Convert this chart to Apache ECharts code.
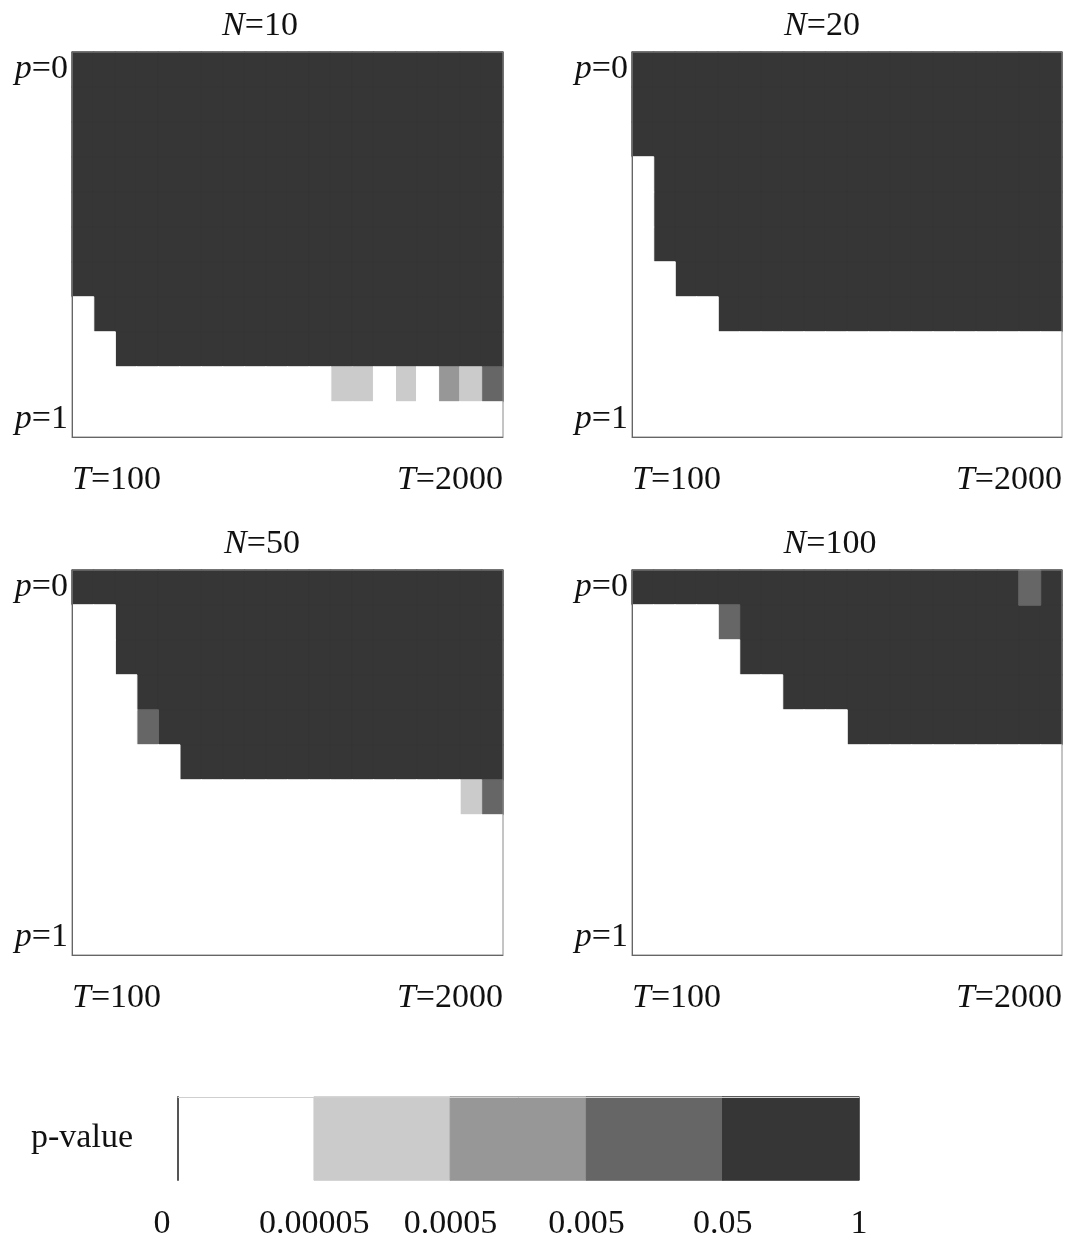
<!DOCTYPE html>
<html>
<head>
<meta charset="utf-8">
<script src="https://cdn.jsdelivr.net/npm/echarts@6/dist/echarts.min.js"></script>
<style>
  html, body { margin: 0; padding: 0; background: #ffffff; }
  #chart { width: 1071px; height: 1237px; }
</style>
</head>
<body>
<div id="chart"></div>
<script>
// Sample lengths (columns) and mixing probabilities (rows)
const tValues = ['100','200','300','400','500','600','700','800','900','1000',
                 '1100','1200','1300','1400','1500','1600','1700','1800','1900','2000'];
const pValues = ['0','0.1','0.2','0.3','0.4','0.5','0.6','0.7','0.8','0.9','1'];

// p-value bins: class k covers [pValueBreaks[k], pValueBreaks[k+1])
const pValueBreaks = ['0', '0.00005', '0.0005', '0.005', '0.05', '1'];
const binColors = ['#ffffff', '#cbcbcb', '#979797', '#666666', '#363636'];

const panelN = ['10', '20', '50', '100'];

// p-value bin per cell, one string per p row (p=0 first), one digit per T column
const binsN10 = [
  '44444444444444444444',
  '44444444444444444444',
  '44444444444444444444',
  '44444444444444444444',
  '44444444444444444444',
  '44444444444444444444',
  '44444444444444444444',
  '04444444444444444444',
  '00444444444444444444',
  '00000000000011010213',
  '00000000000000000000'
];
const binsN20 = [
  '44444444444444444444',
  '44444444444444444444',
  '44444444444444444444',
  '04444444444444444444',
  '04444444444444444444',
  '04444444444444444444',
  '00444444444444444444',
  '00004444444444444444',
  '00000000000000000000',
  '00000000000000000000',
  '00000000000000000000'
];
const binsN50 = [
  '44444444444444444444',
  '00444444444444444444',
  '00444444444444444444',
  '00044444444444444444',
  '00034444444444444444',
  '00000444444444444444',
  '00000000000000000013',
  '00000000000000000000',
  '00000000000000000000',
  '00000000000000000000',
  '00000000000000000000'
];
const binsN100 = [
  '44444444444444444434',
  '00003444444444444444',
  '00000444444444444444',
  '00000004444444444444',
  '00000000004444444444',
  '00000000000000000000',
  '00000000000000000000',
  '00000000000000000000',
  '00000000000000000000',
  '00000000000000000000',
  '00000000000000000000'
];
const panelBins = [binsN10, binsN20, binsN50, binsN100];

// ---- layout ----
const FONT = 'Liberation Serif';
const FS = 34;
const TEXT = '#111111';
const panelBoxes = [
  { left: 72,  top: 52,  width: 431, height: 385 },
  { left: 632, top: 52,  width: 430, height: 385 },
  { left: 72,  top: 570, width: 431, height: 385 },
  { left: 632, top: 570, width: 430, height: 385 }
];
const titlePos = [
  { left: 260, top: 9 }, { left: 822, top: 9 },
  { left: 262, top: 527 }, { left: 830, top: 527 }
];
const legendBox = { left: 178, top: 1097, width: 681, height: 83 };

const italic = { fontFamily: FONT, fontSize: FS, fontStyle: 'italic', fontWeight: 'normal', color: TEXT };
const upright = { fontFamily: FONT, fontSize: FS, fontWeight: 'normal', color: TEXT };

// one filled cell; the outline in the same colour closes hairline seams between cells
function cell(c, r, bin) {
  const col = binColors[bin];
  return { value: [c, r, bin], itemStyle: { color: col, borderColor: col, borderWidth: 1 } };
}

const grids = [], xAxes = [], yAxes = [], series = [], titles = [];

panelBins.forEach((rows, k) => {
  grids.push(Object.assign({
    show: true, z: 10, borderColor: '#8a8a8a', borderWidth: 1,
    backgroundColor: 'transparent', containLabel: false, outerBoundsMode: 'none'
  }, panelBoxes[k]));

  // cell axis
  xAxes.push({
    type: 'category', gridIndex: k, data: tValues, position: 'bottom',
    z: 10,
    axisLine: { show: true, lineStyle: { color: '#666666', width: 1 } },
    axisTick: { show: false }, axisLabel: { show: false }, splitLine: { show: false }
  });
  // end labels T=100 / T=2000 at the panel edges
  xAxes.push({
    type: 'value', gridIndex: k, min: 0, max: tValues.length, interval: tValues.length,
    position: 'bottom',
    axisLine: { show: false }, axisTick: { show: false }, splitLine: { show: false },
    axisLabel: {
      margin: 26, alignMinLabel: 'left', alignMaxLabel: 'right',
      formatter: v => '{i|T}{r|=' + (v === 0 ? tValues[0] : tValues[tValues.length - 1]) + '}',
      rich: { i: italic, r: upright }
    }
  });
  yAxes.push({
    type: 'category', gridIndex: k, data: pValues, inverse: true,
    z: 10,
    axisLine: { show: true, lineStyle: { color: '#666666', width: 1 } },
    axisTick: { show: false }, splitLine: { show: false },
    axisLabel: {
      margin: 4,
      interval: (i) => i === 0 || i === pValues.length - 1,
      formatter: v => '{i|p}{r|=' + v + '}',
      rich: { i: italic, r: upright }
    }
  });

  const data = [];
  rows.forEach((row, r) => {
    for (let c = 0; c < row.length; c++) data.push(cell(c, r, Number(row[c])));
  });
  // darker cells first so lighter ones sit on top at shared edges
  data.sort((a, b) => b.value[2] - a.value[2]);
  series.push({
    type: 'heatmap', xAxisIndex: 2 * k, yAxisIndex: k, data: data,
    emphasis: { disabled: true }, progressive: 0
  });

  titles.push({
    text: '{i|N}{r|=' + panelN[k] + '}',
    left: titlePos[k].left, top: titlePos[k].top, textAlign: 'center', padding: 0,
    textStyle: { fontWeight: 'normal', rich: { i: italic, r: upright } }
  });
});

// ---- colour key ----
const gi = panelBins.length;
grids.push(Object.assign({ show: false, containLabel: false, outerBoundsMode: 'none' }, legendBox));
xAxes.push({
  type: 'category', gridIndex: gi, data: binColors.map((_, i) => String(i)), position: 'top',
  z: 10,
  axisLine: { show: true, lineStyle: { color: '#cfcfcf', width: 1 } },
  axisTick: { show: false }, axisLabel: { show: false }, splitLine: { show: false }
});
xAxes.push({
  type: 'value', gridIndex: gi, min: 0, max: binColors.length, interval: 1, position: 'bottom',
  axisLine: { show: false }, axisTick: { show: false }, splitLine: { show: false },
  axisLabel: {
    margin: 27,
    formatter: v => {
      const i = Math.round(v);
      return i === 0 ? '{z|' + pValueBreaks[0] + '}' : '{r|' + pValueBreaks[i] + '}';
    },
    rich: { z: Object.assign({ padding: [0, 32, 0, 0] }, upright), r: upright }
  }
});
yAxes.push({
  type: 'category', gridIndex: gi, data: ['p-value'],
  z: 10,
  axisLine: { show: true, lineStyle: { color: '#555555', width: 2 } },
  axisTick: { show: false }, splitLine: { show: false },
  axisLabel: { margin: 45, fontFamily: FONT, fontSize: FS, color: TEXT }
});
series.push({
  type: 'heatmap', xAxisIndex: 2 * gi, yAxisIndex: gi,
  data: binColors.map((_, i) => cell(i, 0, i)),
  emphasis: { disabled: true }
});

const chart = echarts.init(document.getElementById('chart'), null, { renderer: 'canvas' });
chart.setOption({
  animation: false,
  backgroundColor: '#ffffff',
  title: titles,
  grid: grids,
  xAxis: xAxes,
  yAxis: yAxes,
  series: series
});
</script>
</body>
</html>
